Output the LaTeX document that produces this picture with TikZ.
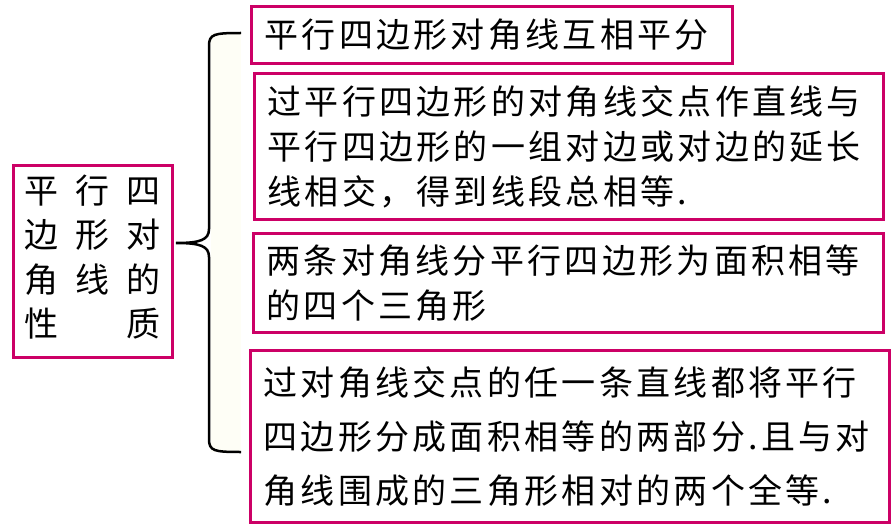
\documentclass[tikz,border=0pt]{standalone}
\usepackage{fontspec}
\newfontfamily\cjk[LetterSpace=9.7]{Noto Sans CJK SC}
\definecolor{mag}{RGB}{204,0,102}
\definecolor{cream}{RGB}{254,254,246}
\begin{document}
\begin{tikzpicture}[x=1pt,y=-1pt,
  box/.style={draw=mag, line width=3pt, anchor=north west, inner xsep=13pt, inner ysep=0pt, align=left, font=\cjk\fontsize{34}{45}\selectfont},
  brace/.style={draw=black, line width=2.5pt},
]
\useasboundingbox (0,0) rectangle (891,532);
\fill[cream] (211,33) rectangle (241,452);
\node[box, text width=455pt, minimum height=57pt] (p1) at (250,5) {平行四边形对角线互相平分};
\node[box, text width=603pt, minimum height=146pt] (p2) at (253,72) {过平行四边形的对角线交点作直线与\\平行四边形的一组对边或对边的延长\\线相交，得到线段总相等.};
\node[box, text width=604pt, minimum height=99pt] (p3) at (252,232) {两条对角线分平行四边形为面积相等\\的四个三角形};
\node[box, text width=613pt, minimum height=172pt, font=\cjk\fontsize{34}{54}\selectfont] (p4) at (249,349) {过对角线交点的任一条直线都将平行\\四边形分成面积相等的两部分.且与对\\角线围成的三角形相对的两个全等.};
\node[draw=mag, line width=3pt, minimum width=159pt, minimum height=192pt, inner sep=0pt, font=\cjk\fontsize{34}{44.5}\selectfont] (L) at (92.5,261)
  {\begin{tabular}{@{}c@{\hspace{17pt}}c@{\hspace{17pt}}c@{}}平&行&四\\ 边&形&对\\ 角&线&的\\ 性&&质\end{tabular}};
\coordinate (tip) at (176,243);
\coordinate (top) at (241,33);
\coordinate (bot) at (241,452);
\draw[brace] (top) .. controls (214,33) and (209,34) .. (209,46) -- (209,229) .. controls (209,240) and (200,243) .. (tip) .. controls (200,243) and (209,246) .. (209,257) -- (209,439) .. controls (209,451) and (214,452) .. (bot);
\end{tikzpicture}
\end{document}
